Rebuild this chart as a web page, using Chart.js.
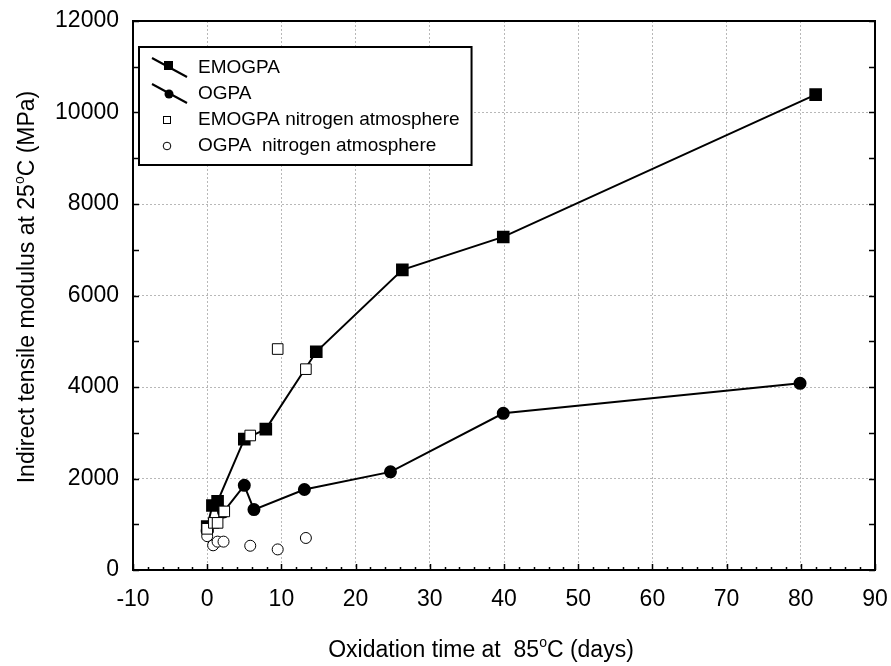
<!DOCTYPE html>
<html>
<head>
<meta charset="utf-8">
<script src="https://cdn.jsdelivr.net/npm/chart.js@4.4.1/dist/chart.umd.min.js"></script>
<style>
  html, body { margin: 0; padding: 0; background: #fff; }
  #wrap { width: 891px; height: 666px; }
</style>
</head>
<body>
<div id="wrap"><canvas id="chart" width="891" height="666"></canvas></div>
<script>
// values (days, MPa)
const emogpaDays = [0, 0.7, 1.4, 5.0, 7.9, 14.7, 26.3, 39.9, 82.0];
const emogpaModulus = [950, 1410, 1500, 2860, 3080, 4770, 6560, 7280, 10390];
const ogpaDays = [0, 2.2, 5.0, 6.3, 13.1, 24.7, 39.9, 79.9];
const ogpaModulus = [850, 1270, 1850, 1320, 1760, 2145, 3425, 4080];
const emogpaN2Days = [0, 0.9, 1.4, 2.3, 5.8, 9.5, 13.3];
const emogpaN2Modulus = [900, 1030, 1030, 1280, 2940, 4830, 4390];
const ogpaN2Days = [0, 0.8, 1.4, 2.2, 5.8, 9.5, 13.3];
const ogpaN2Modulus = [740, 540, 620, 620, 530, 450, 700];

const seriesNames = ['EMOGPA', 'OGPA', 'EMOGPA nitrogen atmosphere', 'OGPA  nitrogen atmosphere'];
const xRange = [-10, 90];
const yRange = [0, 12000];

const FONT = '"Liberation Sans", Arial, sans-serif';

function toPoints(xs, ys) {
    return xs.map((x, i) => ({ x: x, y: ys[i] }));
}

// draws text parts where some are superscript, centered on x
function drawRich(ctx, parts, x, y, size) {
    const big = size + 'px ' + FONT;
    const small = Math.round(size * 0.62) + 'px ' + FONT;
    let total = 0;
    parts.forEach(p => {
        ctx.font = p.sup ? small : big;
        total += ctx.measureText(p.t).width;
    });
    let cx = x - total / 2;
    ctx.textAlign = 'left';
    ctx.textBaseline = 'alphabetic';
    parts.forEach(p => {
        ctx.font = p.sup ? small : big;
        ctx.fillText(p.t, cx, p.sup ? y - size * 0.45 : y);
        cx += ctx.measureText(p.t).width;
    });
}

function noPad(s) {
    s.paddingTop = 0;
    s.paddingBottom = 0;
    s.paddingLeft = 0;
    s.paddingRight = 0;
}

const decorPlugin = {
    id: 'decor',
    afterDraw(chart) {
        const ctx = chart.ctx;
        const area = chart.chartArea;
        const xs = chart.scales.x;
        const ys = chart.scales.y;
        ctx.save();
        ctx.strokeStyle = '#000';
        ctx.fillStyle = '#000';

        // frame
        ctx.lineWidth = 2;
        ctx.strokeRect(area.left, area.top, area.right - area.left, area.bottom - area.top);

        // inward tick marks
        ctx.lineWidth = 1.5;
        ctx.beginPath();
        for (let v = xRange[0]; v <= xRange[1]; v += 2) {
            const px = Math.round(xs.getPixelForValue(v)) + 0.5;
            const len = v % 10 === 0 ? 6 : 3;
            ctx.moveTo(px, area.bottom);
            ctx.lineTo(px, area.bottom - len);
        }
        for (let v = yRange[0]; v <= yRange[1]; v += 1000) {
            const py = Math.round(ys.getPixelForValue(v)) + 0.5;
            ctx.moveTo(area.left, py);
            ctx.lineTo(area.left + 6, py);
            ctx.moveTo(area.right, py);
            ctx.lineTo(area.right - 6, py);
        }
        ctx.stroke();

        // axis titles
        drawRich(ctx, [{ t: 'Oxidation time at  85' }, { t: 'o', sup: true }, { t: 'C (days)' }], 481, 657, 23);
        ctx.save();
        ctx.translate(34, 287);
        ctx.rotate(-Math.PI / 2);
        drawRich(ctx, [{ t: 'Indirect tensile modulus at 25' }, { t: 'o', sup: true }, { t: 'C (MPa)' }], 0, 0, 23);
        ctx.restore();

        // legend
        const lx = 139, ly = 47, rowY = [68, 94, 120, 146];
        ctx.font = '19px ' + FONT;
        let maxW = 0;
        seriesNames.forEach(n => { maxW = Math.max(maxW, ctx.measureText(n).width); });
        ctx.fillStyle = '#fff';
        ctx.fillRect(lx, ly, 198 + maxW + 12 - lx, 118);
        ctx.lineWidth = 2;
        ctx.strokeRect(lx, ly, 198 + maxW + 12 - lx, 118);

        ctx.fillStyle = '#000';
        ctx.textAlign = 'left';
        ctx.textBaseline = 'middle';
        seriesNames.forEach((n, i) => ctx.fillText(n, 198, rowY[i]));

        // legend symbols
        ctx.lineWidth = 2;
        [0, 1].forEach(i => {
            ctx.beginPath();
            ctx.moveTo(152, rowY[i] - 10);
            ctx.lineTo(187, rowY[i] + 9);
            ctx.stroke();
        });
        ctx.fillRect(164, rowY[0] - 7, 9, 9);
        ctx.beginPath();
        ctx.arc(169, rowY[1], 4.5, 0, Math.PI * 2);
        ctx.fill();
        ctx.lineWidth = 1;
        ctx.strokeRect(163.5, rowY[2] - 3.5, 7, 7);
        ctx.beginPath();
        ctx.arc(167, rowY[3], 3.8, 0, Math.PI * 2);
        ctx.stroke();
        ctx.restore();
    }
};

const ctx = document.getElementById('chart').getContext('2d');
const chart = new Chart(ctx, {
    type: 'scatter',
    data: {
        datasets: [
            {
                label: seriesNames[0],
                data: toPoints(emogpaDays, emogpaModulus),
                showLine: true,
                borderColor: '#000',
                borderWidth: 2,
                pointStyle: 'rect',
                pointRadius: 7.5,
                pointBackgroundColor: '#000',
                pointBorderColor: '#000',
                order: 2
            },
            {
                label: seriesNames[1],
                data: toPoints(ogpaDays, ogpaModulus),
                showLine: true,
                borderColor: '#000',
                borderWidth: 2,
                pointStyle: 'circle',
                pointRadius: 5.5,
                pointBackgroundColor: '#000',
                pointBorderColor: '#000',
                order: 3
            },
            {
                label: seriesNames[2],
                data: toPoints(emogpaN2Days, emogpaN2Modulus),
                pointStyle: 'rect',
                pointRadius: 7.5,
                pointBackgroundColor: '#fff',
                pointBorderColor: '#000',
                pointBorderWidth: 1,
                order: 0
            },
            {
                label: seriesNames[3],
                data: toPoints(ogpaN2Days, ogpaN2Modulus),
                pointStyle: 'circle',
                pointRadius: 5.5,
                pointBackgroundColor: '#fff',
                pointBorderColor: '#000',
                pointBorderWidth: 1,
                order: 1
            }
        ]
    },
    options: {
        responsive: false,
        animation: false,
        devicePixelRatio: 1,
        layout: { padding: { left: 0, right: 16, top: 21, bottom: 0 } },
        plugins: {
            legend: { display: false },
            tooltip: { enabled: false }
        },
        scales: {
            x: {
                type: 'linear',
                min: xRange[0],
                max: xRange[1],
                afterFit: s => { s.height = 96; noPad(s); },
                ticks: { stepSize: 10, color: '#000', padding: 16, font: { family: FONT, size: 23 }, callback: v => String(v) },
                grid: { color: '#b8b8b8', lineWidth: 1, drawTicks: false },
                border: { display: true, color: '#000', width: 2, dash: [2, 2] }
            },
            y: {
                min: yRange[0],
                max: yRange[1],
                afterFit: s => { s.width = 133; noPad(s); },
                ticks: { stepSize: 2000, color: '#000', padding: 14, font: { family: FONT, size: 23 }, callback: v => String(v) },
                grid: { color: '#b8b8b8', lineWidth: 1, drawTicks: false },
                border: { display: true, color: '#000', width: 2, dash: [2, 2] }
            }
        }
    },
    plugins: [decorPlugin]
});
</script>
</body>
</html>
